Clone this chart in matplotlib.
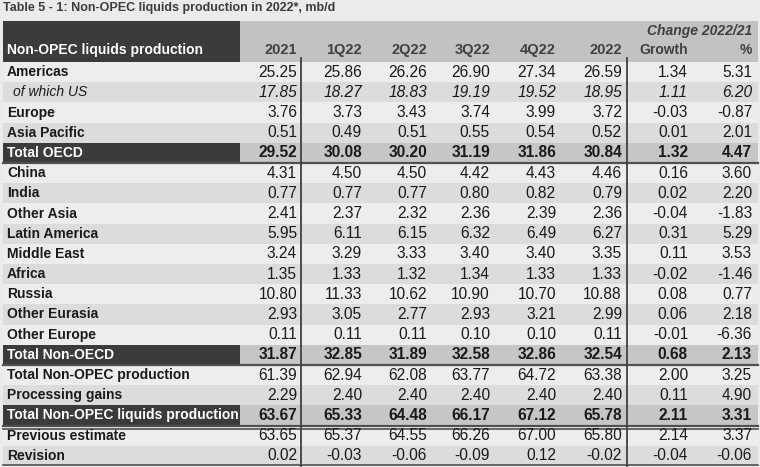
import matplotlib.pyplot as plt

#------------ data input --------------------
title = "Table 5 - 1: Non-OPEC liquids production in 2022*, mb/d"
columns = ["2021", "1Q22", "2Q22", "3Q22", "4Q22", "2022", "Growth", "%"]
rows = ["Americas", "of which US", "Europe", "Asia Pacific", "Total OECD",
        "China", "India", "Other Asia", "Latin America", "Middle East",
        "Africa", "Russia", "Other Eurasia", "Other Europe", "Total Non-OECD",
        "Total Non-OPEC production", "Processing gains",
        "Total Non-OPEC liquids production", "Previous estimate", "Revision"]
# n = normal, i = italic sub row, t = total row
kinds = ["n", "i", "n", "n", "t",
         "n", "n", "n", "n", "n", "n", "n", "n", "n", "t",
         "n", "n", "t", "n", "n"]
y2021  = [25.25, 17.85, 3.76, 0.51, 29.52, 4.31, 0.77, 2.41, 5.95, 3.24,
          1.35, 10.80, 2.93, 0.11, 31.87, 61.39, 2.29, 63.67, 63.65, 0.02]
q1_22  = [25.86, 18.27, 3.73, 0.49, 30.08, 4.50, 0.77, 2.37, 6.11, 3.29,
          1.33, 11.33, 3.05, 0.11, 32.85, 62.94, 2.40, 65.33, 65.37, -0.03]
q2_22  = [26.26, 18.83, 3.43, 0.51, 30.20, 4.50, 0.77, 2.32, 6.15, 3.33,
          1.32, 10.62, 2.77, 0.11, 31.89, 62.08, 2.40, 64.48, 64.55, -0.06]
q3_22  = [26.90, 19.19, 3.74, 0.55, 31.19, 4.42, 0.80, 2.36, 6.32, 3.40,
          1.34, 10.90, 2.93, 0.10, 32.58, 63.77, 2.40, 66.17, 66.26, -0.09]
q4_22  = [27.34, 19.52, 3.99, 0.54, 31.86, 4.43, 0.82, 2.39, 6.49, 3.40,
          1.33, 10.70, 3.21, 0.10, 32.86, 64.72, 2.40, 67.12, 67.00, 0.12]
y2022  = [26.59, 18.95, 3.72, 0.52, 30.84, 4.46, 0.79, 2.36, 6.27, 3.35,
          1.33, 10.88, 2.99, 0.11, 32.54, 63.38, 2.40, 65.78, 65.80, -0.02]
growth = [1.34, 1.11, -0.03, 0.01, 1.32, 0.16, 0.02, -0.04, 0.31, 0.11,
          -0.02, 0.08, 0.06, -0.01, 0.68, 2.00, 0.11, 2.11, 2.14, -0.04]
pct    = [5.31, 6.20, -0.87, 2.01, 4.47, 3.60, 2.20, -1.83, 5.29, 3.53,
          -1.46, 0.77, 2.18, -6.36, 2.13, 3.25, 4.90, 3.31, 3.37, -0.06]
values = [y2021, q1_22, q2_22, q3_22, q4_22, y2022, growth, pct]

#------------ layout --------------------
plt.rcParams['font.family'] = ['Liberation Sans', 'DejaVu Sans']
fig = plt.figure(figsize=(7.6, 4.67), dpi=100, facecolor='#ebebeb')
ax = fig.add_axes([0, 0, 1, 1])
ax.set_xlim(0, 760)
ax.set_ylim(467, 0)
ax.axis('off')

fs_lab, fs_num, fs_head = 10, 11.2, 10.5
col_right = [297, 362, 427, 490, 556, 622, 688, 752]
left, right, split = 3, 758, 240
top0, rh = 62, 20.2

ax.text(3, 8, title, fontsize=9, fontweight='bold', color='#3c3c3c', va='center')

# header
ax.add_patch(plt.Rectangle((left, 21), split - left, 41, color='#3b3b3b', lw=0))
ax.add_patch(plt.Rectangle((split, 21), right - split, 41, color='#c2c2c2', lw=0))
ax.text(7, 50, "Non-OPEC liquids production", fontsize=fs_lab, fontweight='bold',
        color='white', va='center')
for x, c in zip(col_right, columns):
    ax.text(x, 50, c, fontsize=fs_head if c[0].isdigit() else 10,
            fontweight='bold', color='#404040', ha='right', va='center')
ax.text(col_right[-1], 31, "Change 2022/21", fontsize=10, fontweight='bold',
        style='italic', color='#404040', ha='right', va='center')

# rows
band = 0
for i, (lab, k) in enumerate(zip(rows, kinds)):
    y0 = top0 + i * rh
    yc = y0 + rh / 2
    if k == 't':
        ax.add_patch(plt.Rectangle((left, y0), split - left, rh, color='#3b3b3b', lw=0))
        ax.add_patch(plt.Rectangle((split, y0), right - split, rh, color='#c6c6c6', lw=0))
        ax.plot([left, right], [y0 + rh, y0 + rh], color='#505050', lw=1.6)
        if lab.endswith("liquids production"):
            ax.plot([left, right], [y0 + rh + 3, y0 + rh + 3], color='#505050', lw=1.2)
        band = 0
    else:
        ax.add_patch(plt.Rectangle((left, y0), right - left, rh,
                                   color='#ededed' if band % 2 == 0 else '#dcdcdc', lw=0))
        band += 1
    if k == 't':
        ax.text(7, yc, lab, fontsize=fs_lab, fontweight='bold', color='white', va='center')
    elif k == 'i':
        ax.text(13, yc, "of which US", fontsize=fs_lab, style='italic',
                color='#1a1a1a', va='center')
    else:
        ax.text(7, yc, lab, fontsize=fs_lab, fontweight='bold', color='#1a1a1a', va='center')
    for x, col in zip(col_right, values):
        ax.text(x, yc, "%.2f" % col[i], fontsize=fs_num, ha='right', va='center',
                color='#1a1a1a',
                fontweight='bold' if k == 't' else 'normal',
                style='italic' if k == 'i' else 'normal')

ybot = top0 + len(rows) * rh
ax.plot([left, right], [ybot - 1, ybot - 1], color='#505050', lw=1.2)
for x in [301, 627]:
    ax.plot([x, x], [58, ybot], color='#404040', lw=1.3)

plt.savefig('out.png', dpi=100, facecolor=fig.get_facecolor())
